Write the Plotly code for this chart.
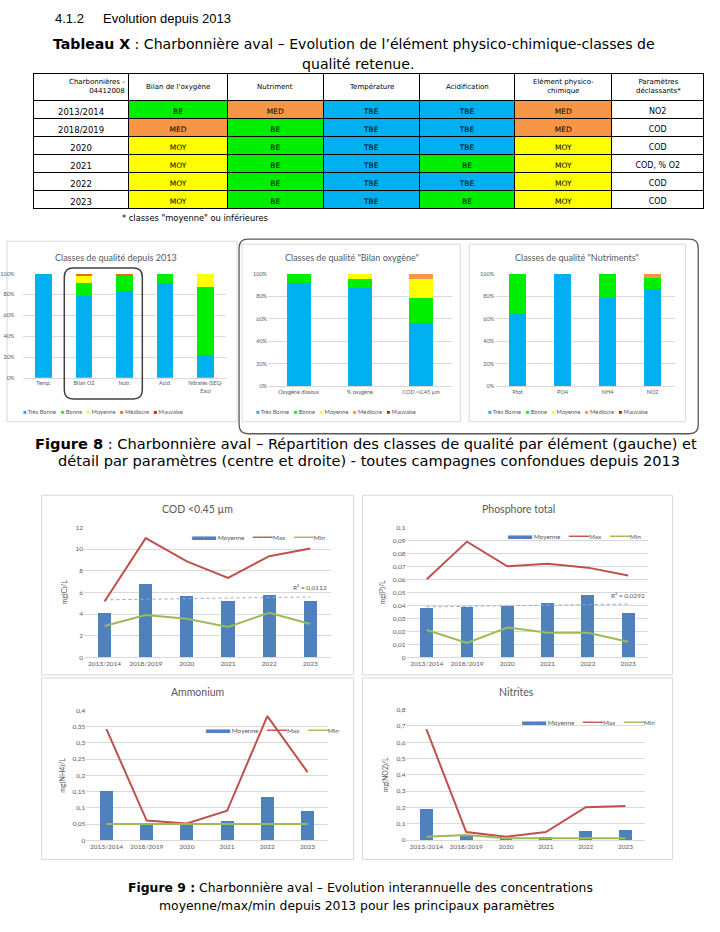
import numpy as np
import plotly.graph_objects as go

W, H = 720, 932
def fx(p): return p / W
def fy(p): return 1 - p / H

TXT = "#595959"
GRID = "#D9D9D9"
DOC_FONT = "DejaVu Sans"
CH_FONT = "Lato"

# ---------------- Table data ----------------
tbl_header = ["Charbonnières -<br>04412008", "Bilan de l'oxygène", "Nutriment", "Température",
              "Acidification", "Elément physico-<br>chimique", "Paramètres<br>déclassants*"]
tbl_years = ["2013/2014", "2018/2019", "2020", "2021", "2022", "2023"]
tbl_bilan = ["BE", "MED", "MOY", "MOY", "MOY", "MOY"]
tbl_nutr = ["MED", "BE", "BE", "BE", "BE", "BE"]
tbl_temp = ["TBE", "TBE", "TBE", "TBE", "TBE", "TBE"]
tbl_acid = ["TBE", "TBE", "TBE", "BE", "TBE", "BE"]
tbl_elem = ["MED", "MED", "MOY", "MOY", "MOY", "MOY"]
tbl_param = ["NO2", "COD", "COD", "COD, % O2", "COD", "COD"]
class_fill = {"TBE": "#00B0F0", "BE": "#00EE00", "MOY": "#FFFF00", "MED": "#F79646"}

# ---------------- Figure 8 data ----------------
class_names = ["Très Bonne", "Bonne", "Moyenne", "Médiocre", "Mauvaise"]

elem_cats = ["Temp.", "Bilan O2", "Nutr.", "Acid.", "Nitrates (SEQ-<br>Eau)"]
elem_tb = [1.0, 0.787, 0.832, 0.913, 0.217]
elem_b = [0.0, 0.127, 0.154, 0.087, 0.652]
elem_moy = [0.0, 0.070, 0.0, 0.0, 0.131]
elem_med = [0.0, 0.016, 0.014, 0.0, 0.0]
elem_mauv = [0.0, 0.0, 0.0, 0.0, 0.0]

bilan_cats = ["Oxygène dissous", "% oxygène", "COD <0.45 µm"]
bilan_tb = [0.913, 0.870, 0.565]
bilan_b = [0.087, 0.087, 0.217]
bilan_moy = [0.0, 0.043, 0.174]
bilan_med = [0.0, 0.0, 0.044]
bilan_mauv = [0.0, 0.0, 0.0]

nutr_cats = ["Ptot", "PO4", "NH4", "NO2"]
nutr_tb = [0.648, 1.0, 0.786, 0.868]
nutr_b = [0.352, 0.0, 0.214, 0.094]
nutr_moy = [0.0, 0.0, 0.0, 0.0]
nutr_med = [0.0, 0.0, 0.0, 0.038]
nutr_mauv = [0.0, 0.0, 0.0, 0.0]

# ---------------- Figure 9 data ----------------
years = ["2013/2014", "2018/2019", "2020", "2021", "2022", "2023"]
cod_moy = [4.12, 6.78, 5.65, 5.16, 5.74, 5.22]
cod_max = [5.16, 11.0, 8.85, 7.33, 9.34, 10.05]
cod_min = [2.9, 3.9, 3.57, 2.81, 4.12, 3.08]
cod_r2 = "R² = 0,0112"

pt_moy = [0.0377, 0.0384, 0.0392, 0.0417, 0.0481, 0.0344]
pt_max = [0.060, 0.089, 0.070, 0.072, 0.069, 0.063]
pt_min = [0.021, 0.011, 0.023, 0.019, 0.019, 0.012]
pt_r2 = "R² = 0,0292"

nh4_moy = [0.153, 0.049, 0.052, 0.060, 0.133, 0.090]
nh4_max = [0.342, 0.061, 0.052, 0.091, 0.382, 0.210]
nh4_min = [0.05, 0.05, 0.05, 0.05, 0.05, 0.05]

no2_moy = [0.191, 0.030, 0.014, 0.020, 0.055, 0.061]
no2_max = [0.680, 0.049, 0.020, 0.049, 0.201, 0.209]
no2_min = [0.020, 0.030, 0.010, 0.010, 0.010, 0.010]

C_TB, C_B, C_MOY, C_MED, C_MED2, C_MAUV = "#00B0F0", "#00EE00", "#FFFF00", "#E46C0A", "#F79646", "#E00000"
C_BAR, C_MAX, C_MIN, C_TREND = "#4F81BD", "#C0504D", "#9BBB59", "#8FAADC"

fig = go.Figure()

# ---------------- Table ----------------
TBL_X0, TBL_X1, TBL_Y0 = 25, 704, 70
col_w = [96, 100, 97, 97, 97, 98, 93]
cols = [tbl_years, tbl_bilan, tbl_nutr, tbl_temp, tbl_acid, tbl_elem, tbl_param]
fills = [[class_fill.get(v, "white") for v in c] for c in cols]
fig.add_trace(go.Table(
    domain=dict(x=[fx(TBL_X0), fx(TBL_X1)], y=[fy(212), fy(TBL_Y0)]),
    columnwidth=col_w,
    header=dict(values=[""] * len(tbl_header), fill_color="white", line=dict(color="black", width=1),
                height=27, font=dict(family=DOC_FONT, size=7, color="black")),
    cells=dict(values=cols, fill_color=fills, line=dict(color="black", width=1),
               align="center", height=18,
               font=dict(family=DOC_FONT, size=[8.5, 7.5, 7.5, 7.5, 7.5, 7.5, 8], color="black")),
))

# ---------------- Stacked bars ----------------
def add_stack(cats, series, colors, xa, ya, width):
    for name, vals, col in zip(class_names, series, colors):
        fig.add_trace(go.Bar(x=cats, y=vals, name=name, width=width,
                             marker=dict(color=col, line=dict(width=0)),
                             xaxis=xa, yaxis=ya, showlegend=False))

add_stack(elem_cats, [elem_tb, elem_b, elem_moy, elem_med, elem_mauv],
          [C_TB, C_B, C_MOY, C_MED, C_MAUV], "x", "y", 0.4)
add_stack(bilan_cats, [bilan_tb, bilan_b, bilan_moy, bilan_med, bilan_mauv],
          [C_TB, C_B, C_MOY, C_MED2, C_MAUV], "x2", "y2", 0.39)
add_stack(nutr_cats, [nutr_tb, nutr_b, nutr_moy, nutr_med, nutr_mauv],
          [C_TB, C_B, C_MOY, C_MED2, C_MAUV], "x3", "y3", 0.38)

# ---------------- Combo charts ----------------
idx = np.arange(len(years))
def add_combo(moy, mx, mn, xa, ya, trend=False):
    fig.add_trace(go.Bar(x=years, y=moy, name="Moyenne", width=0.32,
                         marker=dict(color=C_BAR, line=dict(width=0)),
                         xaxis=xa, yaxis=ya, showlegend=False))
    fit = None
    if trend:
        fit = np.polyval(np.polyfit(idx, moy, 1), idx)
        fig.add_trace(go.Scatter(x=years, y=fit, mode="lines", name="Linéaire (Moyenne)",
                                 line=dict(color=C_TREND, width=1, dash="dot"),
                                 xaxis=xa, yaxis=ya, showlegend=False, hoverinfo="skip"))
    fig.add_trace(go.Scatter(x=years, y=mx, mode="lines", name="Max",
                             line=dict(color=C_MAX, width=2), xaxis=xa, yaxis=ya, showlegend=False))
    fig.add_trace(go.Scatter(x=years, y=mn, mode="lines", name="Min",
                             line=dict(color=C_MIN, width=2), xaxis=xa, yaxis=ya, showlegend=False))
    return fit

cod_fit = add_combo(cod_moy, cod_max, cod_min, "x4", "y4", True)
pt_fit = add_combo(pt_moy, pt_max, pt_min, "x5", "y5", True)
add_combo(nh4_moy, nh4_max, nh4_min, "x6", "y6")
add_combo(no2_moy, no2_max, no2_min, "x7", "y7")

# ---------------- Axes ----------------
def xcat(d, anchor, size, n):
    return dict(domain=[fx(d[0]), fx(d[1])], anchor=anchor, type="category",
                range=[-0.5, n - 0.5],
                tickfont=dict(family=CH_FONT, size=size, color=TXT),
                showline=True, linecolor=GRID, linewidth=1, ticks="", showgrid=False,
                fixedrange=True)

def ylin(d, anchor, rng, dtick, size, fmt=None, title=None, standoff=None):
    ax = dict(domain=[fy(d[0]), fy(d[1])], anchor=anchor, range=rng, dtick=dtick,
              tickfont=dict(family=CH_FONT, size=size, color=TXT),
              showgrid=True, gridcolor=GRID, gridwidth=1, zeroline=False,
              showline=False, ticks="", fixedrange=True)
    if fmt:
        ax["tickformat"] = fmt
    if standoff:
        ax["ticklabelstandoff"] = standoff
    if title:
        ax["title"] = dict(text=title, font=dict(family=CH_FONT, size=7, color=TXT), standoff=6)
    return ax

ny = len(years)
layout = dict(
    width=W, height=H, margin=dict(l=0, r=0, t=0, b=0),
    paper_bgcolor="white", plot_bgcolor="rgba(0,0,0,0)",
    barmode="stack", separators=", ", showlegend=False,
    font=dict(family=CH_FONT, color=TXT),
    xaxis=xcat((14.5, 219.5), "y", 5.5, len(elem_cats)),
    yaxis=ylin((376.7, 271.7), "x", [0, 1], 0.2, 5.5, ".0%", standoff=8),
    xaxis2=xcat((262.3, 448.3), "y2", 5.5, len(bilan_cats)),
    yaxis2=ylin((385.3, 271.7), "x2", [0, 1], 0.2, 5.5, ".0%"),
    xaxis3=xcat((492.2, 674.5), "y3", 5.5, len(nutr_cats)),
    yaxis3=ylin((385.3, 271.7), "x3", [0, 1], 0.2, 5.5, ".0%"),
    xaxis4=xcat((75.9, 326), "y4", 6.5, ny),
    yaxis4=ylin((658.3, 527.3), "x4", [0, 12], 2, 6.5, None, "mg(C)/L"),
    xaxis5=xcat((402.6, 647.4), "y5", 6.5, ny),
    yaxis5=ylin((658.3, 527.3), "x5", [0, 0.1], 0.01, 6.5, None, "mg(P)/L"),
    xaxis6=xcat((78.3, 322.7), "y6", 6.5, ny),
    yaxis6=ylin((842.7, 711.7), "x6", [0, 0.4], 0.05, 6.5, None, "mg(NH4)/L"),
    xaxis7=xcat((402.5, 644.5), "y7", 6.5, ny),
    yaxis7=ylin((842.3, 711.0), "x7", [0, 0.8], 0.1, 6.5, None, "mg(NO2)/L"),
)
fig.update_layout(**layout)

# ---------------- Decorative frames ----------------
def rect(x0, y0, x1, y1, color=GRID, width=1):
    fig.add_shape(type="rect", xref="paper", yref="paper", x0=fx(x0), x1=fx(x1), y0=fy(y1), y1=fy(y0),
                  line=dict(color=color, width=width), fillcolor="rgba(0,0,0,0)", layer="below")

def rrect(x0, y0, x1, y1, r, color, width):
    X0, X1, Yt, Yb = fx(x0), fx(x1), fy(y0), fy(y1)
    rx, ry = r / W, r / H
    p = (f"M{X0+rx},{Yt} L{X1-rx},{Yt} Q{X1},{Yt} {X1},{Yt-ry} L{X1},{Yb+ry} Q{X1},{Yb} {X1-rx},{Yb} "
         f"L{X0+rx},{Yb} Q{X0},{Yb} {X0},{Yb+ry} L{X0},{Yt-ry} Q{X0},{Yt} {X0+rx},{Yt} Z")
    fig.add_shape(type="path", xref="paper", yref="paper", path=p,
                  line=dict(color=color, width=width), layer="above")

rect(-2, 239, 231, 421)
rect(236, 242, 457, 421)
rect(466, 242, 685, 421)
rrect(233, 237, 698, 433, 9, "#595959", 1.3)
rrect(56, 266, 135, 398, 9, "#404040", 1.5)

rect(33, 495, 349, 676)
rect(358, 495, 672, 676)
rect(33, 679, 349, 862)
rect(358, 679, 672, 862)

# ---------------- Text ----------------
ann = []
def text(x, y, s, size, family=DOC_FONT, color="black", xanchor="center", yanchor="middle", align="center"):
    ann.append(dict(x=fx(x), y=fy(y), xref="paper", yref="paper", text=s, showarrow=False, align=align,
                    font=dict(family=family, size=size, color=color), xanchor=xanchor, yanchor=yanchor))

# table header labels, placed over the header row of the table
scale = (TBL_X1 - TBL_X0) / sum(col_w)
edges = np.concatenate([[0], np.cumsum(col_w)]) * scale + TBL_X0
for i, lab in enumerate(tbl_header):
    if i == 0:
        text(edges[1] - 2, TBL_Y0 + 13.5, lab, 7, xanchor="right", align="right")
    else:
        text((edges[i] + edges[i + 1]) / 2, TBL_Y0 + 13.5, lab, 7)

text(45, 15, "4.1.2", 13, "Liberation Sans", xanchor="left")
text(93, 15, "Evolution depuis 2013", 13, "Liberation Sans", xanchor="left")
text(349, 40, "<b>Tableau X</b> : Charbonnière aval – Evolution de l’élément physico-chimique-classes de", 14.1)
text(353, 60, "qualité retenue.", 14.1)
text(112, 216, "* classes \"moyenne\" ou inférieures", 8.3, xanchor="left")

text(108, 255, "Classes de qualité depuis 2013", 9, CH_FONT, TXT)
text(347, 255, "Classes de qualité \"Bilan oxygène\"", 9, CH_FONT, TXT)
text(575, 255, "Classes de qualité \"Nutriments\"", 9, CH_FONT, TXT)

def sq(c):
    return f'<span style="color:{c}">■</span>'
NB = "\u00a0"
def stack_legend(med_c):
    cols_ = [C_TB, C_B, C_MOY, med_c, C_MAUV]
    return (NB * 3).join(f"{sq(c)}{NB}{n}" for c, n in zip(cols_, class_names))

text(12, 411, stack_legend(C_MED), 5.8, CH_FONT, TXT, xanchor="left")
text(248, 411, stack_legend(C_MED2), 5.8, CH_FONT, TXT, xanchor="left")
text(483, 411, stack_legend(C_MED2), 5.8, CH_FONT, TXT, xanchor="left")

text(362, 443, "<b>Figure 8</b> : Charbonnière aval – Répartition des classes de qualité par élément (gauche) et", 14.6)
text(365, 460, "détail par paramètres (centre et droite) - toutes campagnes confondues depuis 2013", 14.6)

text(191, 509, "COD &lt;0.45 µm", 10.5, CH_FONT, TXT)
text(516, 509, "Phosphore total", 10.5, CH_FONT, TXT)
text(191, 693, "Ammonium", 10.5, CH_FONT, TXT)
text(514, 693, "Nitrites", 10.5, CH_FONT, TXT)

def combo_legend():
    return (f'<span style="color:{C_BAR};font-size:12px">▬▬</span>{NB}Moyenne{NB*5}'
            f'<span style="color:{C_MAX};font-size:8px">━━━━</span>Max{NB*5}'
            f'<span style="color:{C_MIN};font-size:8px">━━━━</span>Min')

text(183, 536, combo_legend(), 6.5, CH_FONT, TXT, xanchor="left")
text(503, 535, combo_legend(), 6.5, CH_FONT, TXT, xanchor="left")
text(197, 730, combo_legend(), 6.5, CH_FONT, TXT, xanchor="left")
text(517, 722, combo_legend(), 6.5, CH_FONT, TXT, xanchor="left")

last = len(years) - 1
ann.append(dict(x=last, y=float(cod_fit[-1]), xref="x4", yref="y4", text=cod_r2, showarrow=False,
                yshift=9, font=dict(family=CH_FONT, size=6.5, color=TXT)))
ann.append(dict(x=last, y=float(pt_fit[-1]), xref="x5", yref="y5", text=pt_r2, showarrow=False,
                yshift=9, font=dict(family=CH_FONT, size=6.5, color=TXT)))

text(356, 890, "<b>Figure 9 :</b> Charbonnière aval – Evolution interannuelle des concentrations", 12.4)
text(352, 908, "moyenne/max/min depuis 2013 pour les principaux paramètres", 12.4)

fig.update_layout(annotations=ann)
fig.write_html("out.html", config={"displayModeBar": False},
               post_script="document.body.style.margin='0px';")
